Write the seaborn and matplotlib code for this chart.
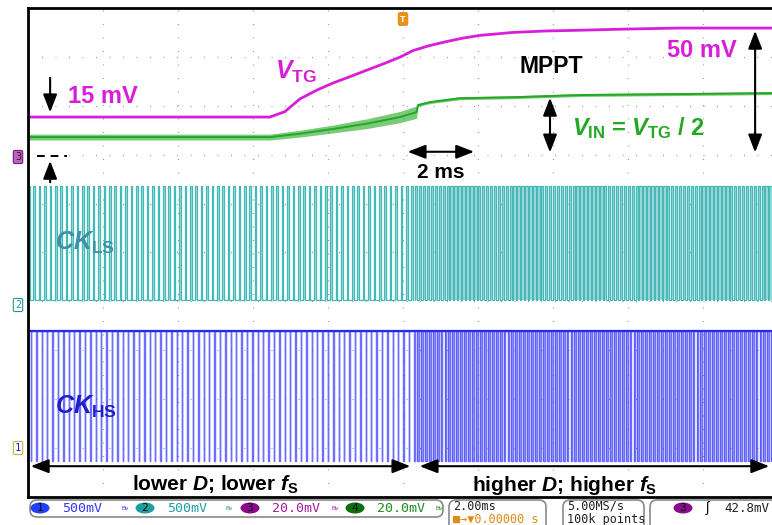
import numpy as np
import pandas as pd
import matplotlib
matplotlib.use('Agg')
import matplotlib.pyplot as plt
from matplotlib.patches import FancyBboxPatch, Ellipse
from matplotlib.transforms import IdentityTransform
import seaborn as sns

# ---- data (time in ms, trigger at 0) ----
# V_TG (ch3) and V_IN (ch4), mV above the shared ground marker, 20 mV/div
t_vtg = [-10.0, -3.55, -3.15, -2.75, -2.3, -1.87, -1.4, -0.96, -0.5, -0.08, 0.27, 0.7,
         1.17, 1.6, 2.05, 2.93, 3.8, 4.72, 6.0, 7.39, 10.0]
v_tg = [16.4, 16.4, 18.6, 23.8, 27.4, 30.3, 33.0, 35.6, 38.3, 40.9, 43.6, 45.6,
        47.3, 48.7, 49.8, 51.0, 51.6, 51.9, 52.4, 52.8, 52.8]

t_vin = [-10.0, -3.55, -2.75, -1.87, -0.96, -0.08, 0.36, 0.40, 0.72, 1.52, 2.93, 4.72, 7.39, 10.0]
v_in = [8.2, 8.2, 9.6, 11.5, 13.7, 16.4, 18.4, 21.3, 22.5, 24.1, 24.5, 25.4, 25.8, 26.2]
v_in_ripple = [1.2, 1.2, 1.4, 1.6, 2.0, 2.3, 2.5, 0.6, 0.6, 0.6, 0.6, 0.6, 0.6, 0.6]

ch3_ground_div = 6.95
mv_per_div = 20.0

# clocks: lower fs before the step, higher fs after it
t_step = 0.32
clk_period = [0.144, 0.105]
ls_width = [0.045, 0.065]
hs_width = [0.015, 0.05]
ls_levels = (4.03, 6.36)   # low, high (div)
hs_levels = (0.74, 3.39)

MAGENTA = '#D81ED8'
GREEN = '#22A822'
TEAL = '#45B8B8'
BLUE = '#4A4AFF'

sns.set_theme(style='white')
plt.rcParams['font.family'] = ['Liberation Sans', 'DejaVu Sans']
plt.rcParams['mathtext.fontset'] = 'custom'
plt.rcParams['mathtext.rm'] = 'Liberation Sans:bold'
plt.rcParams['mathtext.it'] = 'Liberation Sans:italic:bold'
plt.rcParams['mathtext.bf'] = 'Liberation Sans:bold'

fig = plt.figure(figsize=(7.72, 5.25), dpi=100)
ax = fig.add_axes([28 / 772, 28 / 525, 750 / 772, 489 / 525])
ax.set_xlim(-10, 10)
ax.set_ylim(0, 10)
ax.set_xticks(np.arange(-10, 11, 2))
ax.set_yticks(np.arange(0, 11, 1))
ax.tick_params(length=0, labelbottom=False, labelleft=False)
ax.set_axisbelow(True)
ax.grid(True, color='#9a9a9a', lw=0.9, linestyle=(0, (0.8, 10)))
for side in ['top', 'left', 'bottom']:
    ax.spines[side].set_color('black')
    ax.spines[side].set_linewidth(2)
ax.spines['right'].set_visible(False)


def to_div(mv):
    return ch3_ground_div + np.asarray(mv) / mv_per_div


def pulse_train(starts, width, base, peak):
    xs = np.repeat(np.column_stack([starts, starts + width]).ravel(), 2)
    ys = np.tile([base, peak, peak, base], len(starts))
    return xs, ys


# ---- CK_LS (ch2) ----
for k, (a, b) in enumerate([(-10.0, t_step), (t_step, 10.2)]):
    starts = np.arange(a, b, clk_period[k])
    xs, ys = pulse_train(starts, ls_width[k], ls_levels[0], ls_levels[1])
    ax.fill_between(xs, ls_levels[0], ys, color='#A6DADA', lw=0)
    ax.plot(xs, ys, color=TEAL, lw=0.9)

# ---- CK_HS (ch1), low-going pulses ----
for k, (a, b) in enumerate([(-10.0, t_step), (t_step, 10.2)]):
    starts = np.arange(a + clk_period[k] / 2, b, clk_period[k])
    xs, ys = pulse_train(starts, hs_width[k], hs_levels[1], hs_levels[0])
    if k == 1:
        ax.fill_between(xs, hs_levels[1], ys, color='#A9A9F4', lw=0)
    ax.plot(xs, ys, color=BLUE, lw=1.0, alpha=0.8)
ax.axhline(hs_levels[1], color='#2828E8', lw=1.6)

# ---- V_TG and V_IN ----
df_tg = pd.DataFrame({'t': t_vtg, 'div': to_div(v_tg)})
df_in = pd.DataFrame({'t': t_vin, 'div': to_div(v_in)})
lo = to_div(np.array(v_in) - np.array(v_in_ripple))
hi = to_div(np.array(v_in) + np.array(v_in_ripple))
ax.fill_between(t_vin, lo, hi, color=GREEN, alpha=0.6, lw=0)
sns.lineplot(data=df_in, x='t', y='div', color=GREEN, lw=1.4, ax=ax)
sns.lineplot(data=df_tg, x='t', y='div', color=MAGENTA, lw=2.0, ax=ax)
ax.set_xlabel('')
ax.set_ylabel('')

# ---- annotations ----
arrow = dict(arrowstyle='-|>,head_length=0.9,head_width=0.35', color='black', lw=1.5)
arrow2 = dict(arrowstyle='<|-|>,head_length=0.9,head_width=0.35', color='black', lw=1.5)

ax.annotate('', xy=(-9.41, 7.81), xytext=(-9.41, 8.63), arrowprops=arrow)
ax.plot([-9.76, -8.96], [6.97, 6.97], color='black', lw=1.4, ls=(0, (4, 3)))
ax.annotate('', xy=(-9.41, 6.93), xytext=(-9.41, 6.38), arrowprops=arrow)
ax.text(-8.93, 8.18, '15 mV', color=MAGENTA, fontsize=17, fontweight='bold', va='center')
ax.text(-3.41, 8.69, r'$V_{\rm TG}$', color=MAGENTA, fontsize=18, va='center')
ax.text(3.95, 8.81, 'MPPT', color='black', fontsize=16.5, fontweight='bold', ha='center', va='center')
ax.text(7.04, 9.14, '50 mV', color=MAGENTA, fontsize=17, fontweight='bold', va='center')
ax.annotate('', xy=(9.76, 9.15), xytext=(10.6, 9.15), annotation_clip=False,
            arrowprops=dict(arrowstyle='-|>,head_length=0.9,head_width=0.35', color=MAGENTA, lw=1.5))
ax.annotate('', xy=(9.39, 9.59), xytext=(9.39, 6.99), arrowprops=arrow2)
ax.annotate('', xy=(3.92, 8.22), xytext=(3.92, 6.99), arrowprops=arrow2)
ax.text(4.51, 7.55, r'$V_{\rm IN}$ = $V_{\rm TG}$ / 2', color=GREEN, fontsize=17,
        fontweight='bold', va='center')
ax.annotate('', xy=(0.05, 7.06), xytext=(1.97, 7.06), arrowprops=arrow2)
ax.text(1.01, 6.64, '2 ms', color='black', fontsize=15, fontweight='bold', ha='center', va='center')

ax.text(-9.28, 5.19, r'$CK_{\rm LS}$', color='#3A92A4', fontsize=18, va='center')
ax.text(-9.28, 1.84, r'$CK_{\rm HS}$', color='#1F1FCC', fontsize=18, va='center')

ax.annotate('', xy=(-10.0, 0.63), xytext=(0.27, 0.63), annotation_clip=False, arrowprops=arrow2)
ax.annotate('', xy=(0.37, 0.63), xytext=(9.84, 0.63), annotation_clip=False, arrowprops=arrow2)
ax.text(-5.01, 0.24, r'lower $D$; lower $f_{\rm S}$', color='black', fontsize=15,
        fontweight='bold', ha='center', va='center')
ax.text(4.32, 0.24, r'higher $D$; higher $f_{\rm S}$', color='black', fontsize=15,
        fontweight='bold', ha='center', va='center')

# ---- scope chrome (pixel coords, y from top) ----
ID = IdentityTransform()
H = 525
mono = ['DejaVu Sans Mono', 'DejaVu Sans']


def ptext(x, y, s, **kw):
    fig.text(x, H - y, s, transform=ID, **kw)


# channel ground markers
ptext(18, 157, '3', fontsize=7.5, color='#4B004B', ha='center', va='center', family=mono,
      bbox=dict(boxstyle='round,pad=0.15', fc='#B868B8', ec='#7A1A7A', lw=0.8))
ptext(18, 305, '2', fontsize=7.5, color='#1E9A9A', ha='center', va='center', family=mono,
      bbox=dict(boxstyle='round,pad=0.15', fc='white', ec='#1E9A9A', lw=0.8))
ptext(18, 448, '1', fontsize=7.5, color='#2020CC', ha='center', va='center', family=mono,
      bbox=dict(boxstyle='round,pad=0.15', fc='white', ec='#C8B040', lw=0.8))
# trigger position marker
ptext(403, 19, 'T', fontsize=6.5, color='white', fontweight='bold', ha='center', va='center',
      bbox=dict(boxstyle='round,pad=0.2', fc='#E8921C', ec='#E8921C'))

boxes = [(30, 500, 413, 17), (449, 500, 97, 40), (563, 500, 81, 40), (650, 500, 160, 40)]
for x0, y0, w, h in boxes:
    fig.patches.append(FancyBboxPatch((x0, H - y0 - h), w, h, transform=ID,
                                      boxstyle='round,pad=0,rounding_size=7',
                                      fc='white', ec='#8a8a8a', lw=1.2))

chans = [(40, '1', '#2040FF', '500mV', '#3535FF'),
         (145, '2', '#1E9E9E', '500mV', '#1E9E9E'),
         (250, '3', '#8A0A8A', '20.0mV', '#A020A0'),
         (355, '4', '#0A6E0A', '20.0mV', '#1E8E1E')]
for cx, num, badge, scale, tc in chans:
    fig.patches.append(Ellipse((cx, H - 508), 19, 11, transform=ID, fc=badge, ec='none'))
    ptext(cx, 508, num, fontsize=8, color='#101010', ha='center', va='center', family=mono)
    ptext(cx + 22, 508, scale, fontsize=9.5, color=tc, va='center', family=mono)
    ptext(cx + 81, 508, 'Bv', fontsize=4.5, color=tc, va='center')

ptext(453, 506, '2.00ms', fontsize=8.5, color='#202020', va='center', family=mono)
ptext(453, 519, '\u25a0\u2192\u25bc0.00000 s', fontsize=8.5, color='#E08A10', va='center', family=mono)
ptext(567, 506, '5.00MS/s', fontsize=8.5, color='#202020', va='center', family=mono)
ptext(567, 519, '100k points', fontsize=8.5, color='#202020', va='center', family=mono)
fig.patches.append(Ellipse((683, H - 508), 19, 11, transform=ID, fc='#8A0A8A', ec='none'))
ptext(683, 508, '3', fontsize=8, color='#101010', ha='center', va='center', family=mono)
ptext(707, 508, '\u0283', fontsize=10, color='#101010', ha='center', va='center')
ptext(724, 508, '42.8mV', fontsize=9, color='#202020', va='center', family=mono)

fig.savefig('out.png', dpi=100)
